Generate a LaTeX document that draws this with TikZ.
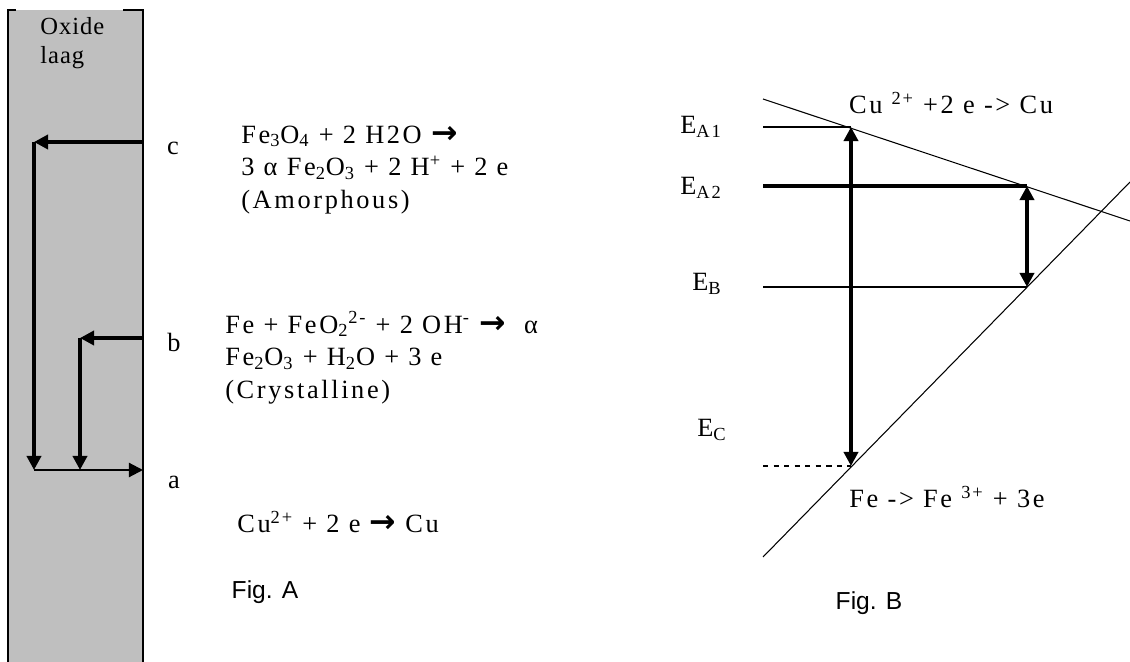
\documentclass[tikz,border=0pt]{standalone}
\usepackage{fontspec}
\setmainfont{Liberation Serif}[LetterSpace=10]
\newfontfamily\plainfont{Liberation Serif}[LetterSpace=4]
\newfontfamily\figfont{Liberation Sans}
\newfontfamily\arrowfont{DejaVu Sans}
\newcommand{\yields}{{\arrowfont\bfseries\fontsize{18}{18}\selectfont →}}
\usetikzlibrary{arrows.meta}

\tikzset{
  wire/.style={line width=2.3pt},
  thinwire/.style={line width=1.2pt},
  tip/.style={-{Triangle[length=8pt,width=8pt]}},
  eqtext/.style={anchor=west,align=left,inner sep=0pt,font=\fontsize{15}{18.7}\selectfont},
  lbl/.style={inner sep=0pt,font=\fontsize{15}{17}\selectfont},
  potline/.style={line width=0.6pt},
  caption/.style={inner sep=0pt,font=\figfont\fontsize{14}{16}\selectfont}
}

\begin{document}
\begin{tikzpicture}[x=0.02cm,y=-0.02cm]
\useasboundingbox (0,0) rectangle (1130,662);
% Fig. A: oxide layer
\fill[black!25] (8,10) rectangle (143,662);
\draw[thinwire] (8,662) -- (8,10) -- (16,10);
\draw[thinwire] (123,10) -- (143,10) -- (143,662);
\node[anchor=north west,align=left,inner sep=0pt,font=\plainfont\fontsize{14}{16.4}\selectfont] (laag) at (40,17) {Oxide\\laag};

\coordinate (cR) at (143,142);
\coordinate (cL) at (34,142);
\coordinate (bR) at (143,338);
\coordinate (bL) at (80,338);
\coordinate (aL) at (34,470);
\coordinate (aM) at (80,470);
\coordinate (aR) at (143,470);
\draw[wire,tip] (cR) -- (cL);
\draw[wire,tip] (cL) -- (aL);
\draw[wire,tip] (bR) -- (bL);
\draw[wire,tip] (bL) -- (aM);
\draw[thinwire,tip] (aL) -- (aR);

\node[lbl] (c) at (173,148) {c};
\node[lbl] (b) at (174,342) {b};
\node[lbl] (a) at (174,482) {a};

\node[eqtext] (eqc) at (241,170) {Fe\textsubscript{3}O\textsubscript{4} + 2 H2O \yields\\
  3 α Fe\textsubscript{2}O\textsubscript{3} + 2 H\textsuperscript{+} + 2 e\\
  (Amorphous)};
\node[eqtext] (eqb) at (225,358) {Fe + FeO\textsubscript{2}\textsuperscript{2-} + 2 OH\textsuperscript{-} \yields\ \ α\\
  Fe\textsubscript{2}O\textsubscript{3} + H\textsubscript{2}O + 3 e\\
  (Crystalline)};
\node[eqtext] (eqa) at (237,522) {Cu\textsuperscript{2+} + 2 e \yields\ Cu};
\node[caption] (figA) at (265,592) {Fig. A};

% Fig. B: potentials
\coordinate (cuS) at (763,99);
\coordinate (cuE) at (1130,221);
\coordinate (feS) at (763,557);
\coordinate (feE) at (1130,182);
\coordinate (pA1) at (851,127);
\coordinate (pA2) at (1027,186);
\coordinate (pB) at (1027,287);
\coordinate (pC) at (851,466);
\coordinate (lA1) at (763,127);
\coordinate (lA2) at (763,186);
\coordinate (lB) at (763,287);
\coordinate (lC) at (763,466);
\draw[potline] (cuS) -- (cuE);
\draw[potline] (feS) -- (feE);
\draw[thinwire] (lA1) -- (pA1);
\draw[line width=2pt] (lA2) -- (pA2);
\draw[thinwire] (lB) -- (pB);
\draw[potline,dashed] (lC) -- (pC);
\draw[line width=2.8pt,{Triangle[length=8pt,width=8pt]}-{Triangle[length=8pt,width=8pt]}] (pA1) -- (pC);
\draw[line width=2pt,{Triangle[length=8pt,width=8pt]}-{Triangle[length=8pt,width=8pt]}] (pA2) -- (pB);

\node[lbl] (EA1) at (701,127) {E\textsubscript{A1}};
\node[lbl] (EA2) at (701,188) {E\textsubscript{A2}};
\node[lbl] (EB) at (707,284) {E\textsubscript{B}};
\node[lbl] (EC) at (712,430) {E\textsubscript{C}};
\node[lbl] (cuR) at (951,103) {Cu \textsuperscript{2+} +2 e -> Cu};
\node[lbl] (feR) at (947,497) {Fe -> Fe \textsuperscript{3+} + 3e};
\node[caption] (figB) at (869,603) {Fig. B};
\end{tikzpicture}
\end{document}
